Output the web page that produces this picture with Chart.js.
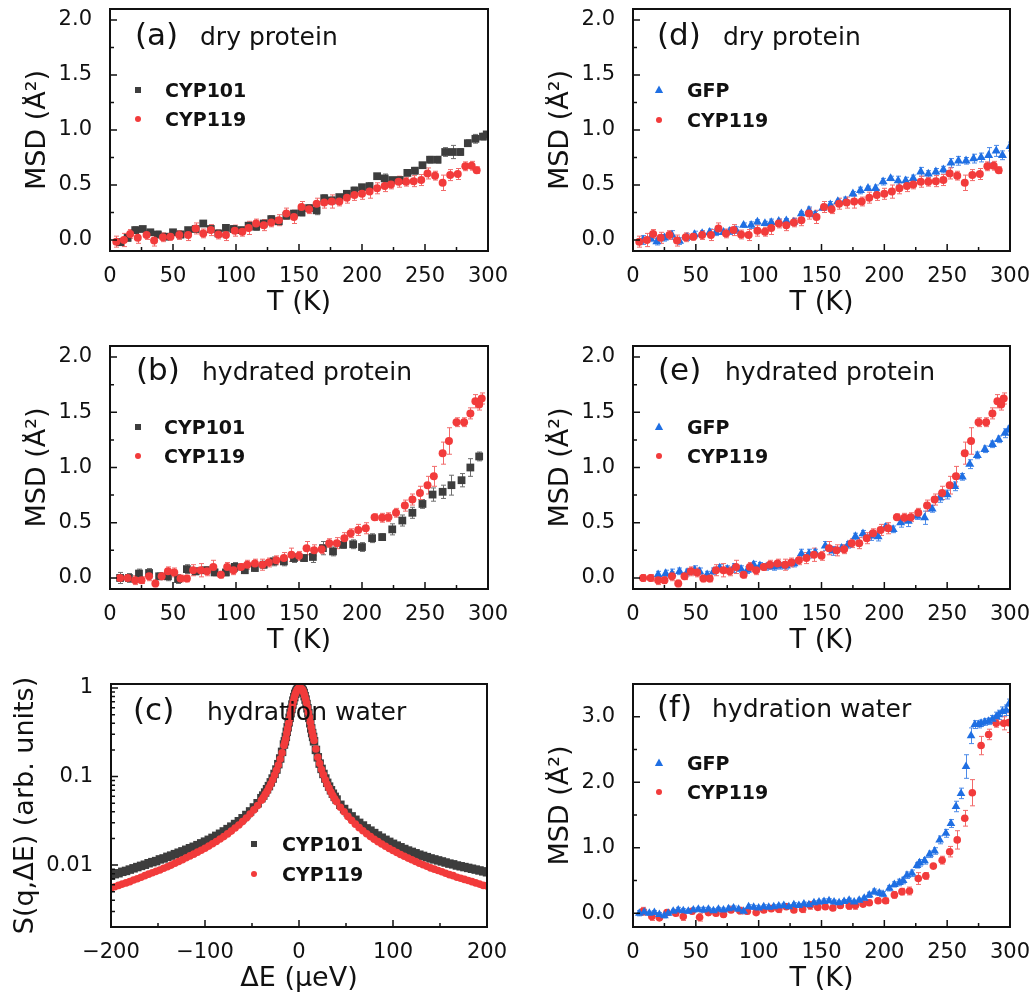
<!DOCTYPE html>
<html><head><meta charset="utf-8">
<script src="https://cdn.jsdelivr.net/npm/chart.js@4.4.1/dist/chart.umd.min.js"></script>
<style>
html,body{margin:0;padding:0;background:#fff;overflow:hidden;width:1032px;height:997px;position:relative}
canvas{position:absolute}
</style></head><body>
<canvas id="pa" width="496" height="340" style="left:22px;top:-21px"></canvas>
<canvas id="pb" width="496" height="341" style="left:22px;top:316px"></canvas>
<canvas id="pc" width="507" height="341" style="left:10px;top:654px"></canvas>
<canvas id="pd" width="495" height="340" style="left:545px;top:-21px"></canvas>
<canvas id="pe" width="495" height="341" style="left:545px;top:316px"></canvas>
<canvas id="pf" width="495" height="341" style="left:545px;top:654px"></canvas>
<script>
// ---------------- tick values and labels ----------------
const tTicks = [0, 50, 100, 150, 200, 250, 300];
const tTickLabels = ['0', '50', '100', '150', '200', '250', '300'];
const tMinor = [25, 75, 125, 175, 225, 275];
const msdTicks = [0, 0.5, 1.0, 1.5, 2.0];
const msdTickLabels = ['0.0', '0.5', '1.0', '1.5', '2.0'];
const msdMinor = [0.25, 0.75, 1.25, 1.75];
const wTicks = [0, 1, 2, 3];
const wTickLabels = ['0.0', '1.0', '2.0', '3.0'];
const wMinor = [0.5, 1.5, 2.5];
const eTicks = [-200, -100, 0, 100, 200];
const eTickLabels = ['\u2212200', '\u2212100', '0', '100', '200'];
const eMinor = [-150, -50, 50, 150];
const sTicks = [0.01, 0.1, 1];
const sTickLabels = ['0.01', '0.1', '1'];
const sMinor = [0.002,0.003,0.004,0.005,0.006,0.007,0.008,0.009,0.02,0.03,0.04,0.05,0.06,0.07,0.08,0.09,0.2,0.3,0.4,0.5,0.6,0.7,0.8,0.9];

// ---------------- (a)/(d) dry protein ----------------
const dryT_CYP101 = [8,14,20,26,32,38,44,50,56,62,68,74,80,86,92,98,104,110,116,122,128,134,140,146,152,158,164,170,176,182,188,194,200,206,212,218,224,230,236,242,248,254,260,266,272,278,284,290,296,299];
const dryMSD_CYP101 = [-0.02,0.02,0.09,0.1,0.07,0.05,0.03,0.07,0.05,0.09,0.1,0.15,0.1,0.06,0.11,0.1,0.09,0.13,0.12,0.15,0.19,0.17,0.22,0.24,0.25,0.29,0.27,0.38,0.36,0.39,0.42,0.45,0.48,0.49,0.58,0.56,0.545,0.545,0.61,0.63,0.68,0.73,0.73,0.8,0.8,0.8,0.88,0.92,0.94,0.96];
const dryErr_CYP101 = [0.03,0.03,0.03,0.02,0.02,0.03,0.02,0.02,0.03,0.02,0.02,0.02,0.03,0.03,0.02,0.03,0.02,0.02,0.03,0.02,0.03,0.03,0.02,0.03,0.03,0.02,0.04,0.03,0.03,0.02,0.03,0.03,0.02,0.03,0.02,0.04,0.02,0.03,0.02,0.03,0.02,0.03,0.03,0.04,0.06,0.03,0.03,0.04,0.03,0.02];

const dryT_CYP119 = [5,11,16,22,29,35,42,48,55,62,68,74,80,86,92,99,105,110,116,122,128,134,140,146,152,158,164,170,176,182,188,194,200,206,212,218,223,229,235,241,247,252,258,264,270,276,282,287,291];
const dryMSD_CYP119 = [-0.015,0.0,0.055,0.02,0.045,-0.005,0.025,0.03,0.045,0.045,0.105,0.06,0.09,0.05,0.045,0.085,0.075,0.11,0.15,0.135,0.16,0.18,0.24,0.21,0.3,0.28,0.33,0.34,0.35,0.35,0.385,0.41,0.42,0.44,0.47,0.49,0.505,0.53,0.53,0.535,0.545,0.605,0.585,0.52,0.59,0.6,0.67,0.675,0.635];
const dryErr_CYP119 = [0.05,0.06,0.04,0.05,0.04,0.05,0.04,0.03,0.04,0.05,0.05,0.04,0.05,0.04,0.05,0.05,0.04,0.06,0.04,0.05,0.04,0.05,0.05,0.06,0.05,0.04,0.05,0.05,0.06,0.04,0.05,0.05,0.05,0.06,0.05,0.05,0.04,0.05,0.04,0.05,0.05,0.05,0.04,0.07,0.05,0.05,0.04,0.04,0.03];

const dryT_GFP = [8,14,19,25,31,37,43,49,55,61,66,72,77,82,88,94,99,105,110,116,122,128,134,140,145,151,157,163,169,175,181,187,193,199,205,211,217,223,229,235,241,247,253,259,265,271,277,283,289,294,300];
const dryMSD_GFP = [0.0,0.015,-0.015,0.02,0.045,-0.01,0.025,0.05,0.06,0.07,0.07,0.07,0.08,0.09,0.135,0.135,0.165,0.15,0.16,0.17,0.175,0.165,0.24,0.27,0.23,0.29,0.32,0.35,0.36,0.42,0.45,0.47,0.47,0.53,0.56,0.54,0.54,0.56,0.62,0.6,0.62,0.64,0.70,0.72,0.72,0.74,0.75,0.77,0.81,0.77,0.85];
const dryErr_GFP = [0.04,0.03,0.03,0.03,0.04,0.03,0.03,0.03,0.02,0.03,0.03,0.02,0.03,0.03,0.02,0.03,0.02,0.02,0.03,0.02,0.02,0.03,0.02,0.03,0.03,0.02,0.03,0.02,0.03,0.02,0.03,0.02,0.03,0.03,0.02,0.04,0.03,0.03,0.04,0.03,0.03,0.03,0.04,0.04,0.03,0.04,0.04,0.07,0.05,0.04,0.04];

// ---------------- (b)/(e) hydrated protein ----------------
const hydT_CYP101 = [8,15,23,31,39,46,54,61,68,76,83,92,99,107,115,122,130,138,146,154,161,169,177,185,193,200,208,216,224,232,240,248,256,264,271,279,286,293];
const hydMSD_CYP101 = [0.0,0.0,0.04,0.045,0.015,0.015,-0.01,0.08,0.06,0.07,0.05,0.05,0.1,0.07,0.09,0.12,0.15,0.15,0.18,0.18,0.19,0.27,0.24,0.3,0.305,0.28,0.36,0.37,0.44,0.52,0.59,0.67,0.755,0.78,0.84,0.885,1.0,1.1];
const hydErr_CYP101 = [0.05,0.04,0.04,0.04,0.03,0.04,0.04,0.04,0.03,0.03,0.03,0.03,0.04,0.03,0.03,0.03,0.04,0.04,0.04,0.03,0.05,0.06,0.04,0.03,0.04,0.04,0.04,0.03,0.05,0.05,0.05,0.04,0.06,0.06,0.09,0.06,0.08,0.04];

const hydT_CYP119 = [8,14,20,25,31,36,41,46,51,56,61,66,72,77,82,88,93,98,104,109,115,121,126,132,138,144,150,156,162,168,174,180,186,191,197,203,210,216,221,227,234,240,246,252,257,264,269,275,281,286,290,293,295];
const hydMSD_CYP119 = [0.0,0.0,-0.02,-0.02,0.015,-0.05,0.015,0.06,0.05,-0.005,-0.005,0.07,0.07,0.06,0.1,0.03,0.1,0.07,0.1,0.12,0.13,0.12,0.14,0.16,0.18,0.21,0.2,0.27,0.25,0.26,0.315,0.315,0.36,0.405,0.435,0.45,0.55,0.545,0.55,0.59,0.655,0.71,0.77,0.84,0.92,1.13,1.24,1.41,1.41,1.49,1.6,1.57,1.625];
const hydErr_CYP119 = [0.03,0.03,0.04,0.03,0.04,0.03,0.03,0.04,0.04,0.03,0.03,0.05,0.06,0.04,0.06,0.03,0.04,0.04,0.03,0.04,0.04,0.05,0.04,0.04,0.05,0.06,0.04,0.06,0.05,0.04,0.04,0.05,0.05,0.04,0.05,0.05,0.03,0.04,0.04,0.04,0.05,0.05,0.06,0.08,0.09,0.1,0.12,0.04,0.04,0.05,0.06,0.05,0.05];

const hydT_GFP = [20,26,31,37,43,49,53,59,64,69,75,80,86,91,96,101,106,112,117,122,128,134,140,145,153,159,166,171,177,183,189,195,201,207,213,219,226,232,238,244,250,256,262,268,274,280,286,291,296,299];
const hydMSD_GFP = [0.03,0.04,0.04,0.06,0.05,0.07,0.06,0.03,0.06,0.09,0.08,0.09,0.08,0.07,0.12,0.11,0.1,0.1,0.11,0.11,0.13,0.22,0.22,0.23,0.29,0.245,0.27,0.3,0.375,0.4,0.38,0.375,0.46,0.44,0.5,0.515,0.56,0.545,0.625,0.725,0.755,0.83,0.915,1.03,1.11,1.165,1.21,1.255,1.31,1.345];
const hydErr_GFP = [0.03,0.03,0.04,0.03,0.03,0.04,0.03,0.03,0.03,0.03,0.03,0.04,0.03,0.03,0.03,0.03,0.03,0.03,0.03,0.03,0.03,0.04,0.04,0.03,0.04,0.04,0.03,0.03,0.03,0.03,0.04,0.04,0.03,0.03,0.04,0.05,0.03,0.06,0.03,0.04,0.04,0.04,0.03,0.04,0.03,0.03,0.03,0.03,0.04,0.03];

// ---------------- (c) hydration water spectra ----------------
const dE = [-200,-196,-192,-188,-184,-180,-176,-172,-168,-164,-160,-156,-152,-148,-144,-140,-136,-132,-128,-124,-120,-116,-112,-108,-104,-100,-96,-92,-88,-84,-80,-76,-72,-68,-64,-60,-56,-52,-48,-44,
  -40,-38,-36,-34,-32,-30,-28,-26,-24,-22,-20,-18,-16,
  -15,-14,-13,-12,-11,-10,-9,-8,-7,-6,-5,-4,-3,-2,-1,0,1,2,3,4,5,6,7,8,9,10,11,12,13,14,15,
  16,18,20,22,24,26,28,30,32,34,36,38,40,
  44,48,52,56,60,64,68,72,76,80,84,88,92,96,100,104,108,112,116,120,124,128,132,136,140,144,148,152,156,160,164,168,172,176,180,184,188,192,196,200];
const S_CYP101 = [0.0076,0.0079,0.0081,0.0084,0.0086,0.0089,0.0092,0.0095,0.0098,0.0101,0.0105,0.0108,0.0111,0.0116,0.0119,0.0124,0.0128,0.0133,0.0138,0.0143,0.0149,0.0155,0.0161,0.0168,0.0176,0.0184,0.0193,0.0203,0.0214,0.0226,0.024,0.0255,0.0272,0.0291,0.0313,0.0338,0.0368,0.0404,0.0448,0.050,
  0.057,0.061,0.066,0.072,0.078,0.086,0.095,0.107,0.12,0.138,0.16,0.19,0.23,
  0.25,0.28,0.32,0.36,0.41,0.46,0.52,0.58,0.65,0.72,0.79,0.86,0.91,0.95,0.98,1.0,1.0,0.99,0.96,0.93,0.88,0.81,0.74,0.66,0.59,0.52,0.46,0.40,0.35,0.31,0.28,
  0.25,0.2,0.165,0.14,0.122,0.107,0.095,0.085,0.077,0.07,0.064,0.059,0.055,
  0.048,0.043,0.039,0.0355,0.0325,0.030,0.028,0.026,0.0245,0.023,0.0216,0.0204,0.0193,0.0183,0.0174,0.0166,0.0159,0.0152,0.0146,0.0141,0.0136,0.0131,0.0127,0.0123,0.0119,0.0116,0.0113,0.011,0.0107,0.0104,0.0102,0.0099,0.0097,0.0095,0.0093,0.0091,0.0089,0.0087,0.0085,0.0083];
const S_CYP119 = [0.0055,0.0057,0.0059,0.0061,0.0063,0.0065,0.0068,0.0070,0.0073,0.0076,0.0079,0.0082,0.0085,0.0088,0.0092,0.0096,0.0100,0.0105,0.0110,0.0115,0.0121,0.0127,0.0133,0.0140,0.0147,0.0155,0.0164,0.0174,0.0185,0.0197,0.021,0.0225,0.0242,0.0262,0.0284,0.031,0.034,0.0377,0.042,0.047,
  0.054,0.058,0.063,0.068,0.075,0.083,0.092,0.104,0.118,0.135,0.158,0.185,0.225,
  0.245,0.27,0.31,0.35,0.4,0.45,0.51,0.57,0.64,0.71,0.78,0.85,0.9,0.95,0.98,1.0,1.0,0.99,0.97,0.94,0.89,0.82,0.75,0.68,0.6,0.53,0.47,0.41,0.36,0.32,0.285,
  0.255,0.205,0.165,0.14,0.12,0.105,0.092,0.082,0.074,0.067,0.061,0.056,0.052,
  0.045,0.04,0.0355,0.032,0.029,0.0265,0.0244,0.0226,0.021,0.0196,0.0184,0.0173,0.0163,0.0154,0.0146,0.0139,0.0132,0.0126,0.012,0.0115,0.011,0.0105,0.0101,0.0097,0.0093,0.009,0.0087,0.0084,0.0081,0.0078,0.0076,0.0073,0.0071,0.0069,0.0067,0.0065,0.0063,0.0061,0.0059,0.0058];

// ---------------- (f) hydration water MSD ----------------
const watT_GFP = [5,9,13,17,21,25,28,32,36,40,44,48,52,56,60,64,68,72,76,80,84,88,92,96,100,104,108,112,116,120,124,128,132,136,140,144,148,152,156,160,164,168,172,176,180,184,188,192,196,199,204,208,212,215,218,222,226,228,232,236,240,244,249,253,257,261,265,269,272,275,277,280,283,286,289,291,294,297,299];
const watMSD_GFP = [0.0,0.02,0.0,0.01,-0.02,-0.04,0.0,0.03,0.05,0.04,0.03,0.05,0.06,0.05,0.06,0.04,0.06,0.05,0.07,0.08,0.06,0.03,0.1,0.09,0.08,0.1,0.09,0.1,0.11,0.12,0.1,0.13,0.12,0.14,0.13,0.16,0.17,0.18,0.19,0.17,0.16,0.18,0.2,0.17,0.2,0.23,0.28,0.33,0.31,0.29,0.38,0.44,0.47,0.5,0.58,0.61,0.73,0.77,0.8,0.9,0.95,1.12,1.22,1.37,1.63,1.83,2.24,2.71,2.88,2.88,2.9,2.92,2.93,2.96,3.0,3.03,3.08,3.1,3.19];
const watErr_GFP = [0.04,0.04,0.03,0.03,0.03,0.03,0.03,0.03,0.04,0.03,0.03,0.03,0.03,0.04,0.03,0.03,0.03,0.03,0.04,0.03,0.03,0.04,0.03,0.03,0.03,0.03,0.03,0.03,0.03,0.03,0.03,0.03,0.03,0.03,0.03,0.03,0.03,0.04,0.03,0.03,0.03,0.03,0.03,0.03,0.03,0.03,0.04,0.04,0.04,0.04,0.04,0.04,0.05,0.05,0.05,0.05,0.04,0.05,0.05,0.05,0.05,0.06,0.06,0.06,0.08,0.08,0.18,0.12,0.06,0.05,0.05,0.05,0.05,0.06,0.07,0.07,0.07,0.08,0.08];

const watT_CYP119 = [8,15,21,27,34,40,47,53,60,66,72,78,85,91,98,104,110,116,122,128,135,141,147,153,159,165,172,177,183,188,195,201,208,214,220,227,233,239,246,252,258,264,270,277,283,289,295,299];
const watMSD_CYP119 = [0.03,-0.05,-0.07,0.01,0.0,-0.05,0.03,-0.06,0.01,0.0,-0.02,0.05,0.04,0.03,0.01,0.05,0.07,0.06,0.1,0.05,0.06,0.12,0.09,0.1,0.08,0.12,0.11,0.12,0.14,0.16,0.19,0.19,0.28,0.33,0.34,0.53,0.57,0.72,0.81,0.94,1.12,1.45,1.84,2.56,2.73,2.9,2.9,2.91];
const watErr_CYP119 = [0.06,0.06,0.04,0.04,0.04,0.06,0.04,0.06,0.04,0.04,0.04,0.04,0.05,0.04,0.03,0.04,0.04,0.05,0.04,0.04,0.05,0.06,0.04,0.04,0.04,0.04,0.05,0.06,0.04,0.04,0.04,0.04,0.05,0.05,0.06,0.09,0.05,0.04,0.06,0.08,0.14,0.12,0.2,0.14,0.08,0.06,0.1,0.15];

// ---------------- drawing helpers ----------------
const FONT = "'DejaVu Sans', 'Liberation Sans', Arial, sans-serif";
Chart.defaults.font.family = FONT;
const TXT = '#111';
const COL = {gray: '#3d3d3d', red: '#f23b3b', blue: '#1f6fe3'};
const ERRCOL = {gray: '#6e6e6e', red: '#f26a6a', blue: '#4d8be8'};
const STYLE = {gray: 'rect', red: 'circle', blue: 'triangle'};

function pts(xs, ys) { return xs.map((x, i) => ({x: x, y: ys[i]})); }

function series(label, xs, ys, errs, kind, order, r) {
  return {
    label: label, data: pts(xs, ys), errors: errs, kind: kind,
    pointStyle: STYLE[kind], pointRadius: r, pointHoverRadius: r,
    backgroundColor: COL[kind], borderColor: COL[kind], borderWidth: 0,
    showLine: false, order: order
  };
}

const errorBars = {
  id: 'errorBars',
  beforeDatasetsDraw(chart) {
    const ctx = chart.ctx, a = chart.chartArea, ys = chart.scales.y;
    ctx.save();
    ctx.beginPath(); ctx.rect(a.left, a.top, a.right - a.left, a.bottom - a.top); ctx.clip();
    chart.data.datasets.forEach((ds, i) => {
      if (!ds.errors) return;
      const meta = chart.getDatasetMeta(i);
      ctx.strokeStyle = ERRCOL[ds.kind]; ctx.lineWidth = 1;
      ctx.beginPath();
      meta.data.forEach((el, j) => {
        const v = ds.data[j].y, e = ds.errors[j];
        const x = Math.round(el.x) + 0.5;
        const y1 = ys.getPixelForValue(v + e), y2 = ys.getPixelForValue(v - e);
        ctx.moveTo(x, y1); ctx.lineTo(x, y2);
        ctx.moveTo(x - 2.5, y1); ctx.lineTo(x + 2.5, y1);
        ctx.moveTo(x - 2.5, y2); ctx.lineTo(x + 2.5, y2);
      });
      ctx.stroke();
    });
    ctx.restore();
  }
};

function marker(ctx, kind, x, y, s) {
  ctx.fillStyle = COL[kind];
  ctx.beginPath();
  if (kind === 'gray') { ctx.rect(x - s / 2, y - s / 2, s, s); }
  else if (kind === 'red') { ctx.arc(x, y, s / 2, 0, Math.PI * 2); }
  else { ctx.moveTo(x, y - s * 0.6); ctx.lineTo(x + s * 0.55, y + s * 0.4); ctx.lineTo(x - s * 0.55, y + s * 0.4); ctx.closePath(); }
  ctx.fill();
}

function decor(cfg) {
  return {
    id: 'decor',
    afterDraw(chart) {
      const ctx = chart.ctx, a = chart.chartArea, sx = chart.scales.x, sy = chart.scales.y;
      ctx.save();
      ctx.strokeStyle = TXT; ctx.lineWidth = 1.5;
      ctx.beginPath();
      const xt = (v, len) => { const p = sx.getPixelForValue(v); ctx.moveTo(p, a.bottom); ctx.lineTo(p, a.bottom - len); };
      const yt = (v, len) => { const p = sy.getPixelForValue(v); ctx.moveTo(a.left, p); ctx.lineTo(a.left + len, p); };
      cfg.xMajor.forEach(v => xt(v, 7)); cfg.xMinor.forEach(v => xt(v, 4));
      cfg.yMajor.forEach(v => yt(v, 7)); cfg.yMinor.forEach(v => yt(v, 4));
      ctx.stroke();
      ctx.lineWidth = 2;
      ctx.strokeRect(a.left, a.top, a.right - a.left, a.bottom - a.top);
      // panel label and caption
      ctx.fillStyle = TXT; ctx.textAlign = 'left'; ctx.textBaseline = 'alphabetic';
      ctx.font = '31px ' + FONT; ctx.fillText(cfg.tag, a.left + cfg.tagX, a.top + cfg.base);
      ctx.font = '25px ' + FONT; ctx.fillText(cfg.caption, a.left + cfg.capX, a.top + cfg.base);
      // legend
      ctx.font = 'bold 19px ' + FONT;
      cfg.legend.forEach((idx, k) => {
        const ds = chart.data.datasets[idx];
        const by = a.top + cfg.legBase[k];
        marker(ctx, ds.kind, a.left + cfg.legMarkX, by - 7, ds.kind === 'blue' ? 7.5 : 6);
        ctx.fillStyle = TXT;
        ctx.fillText(ds.label, a.left + cfg.legTextX, by);
      });
      ctx.restore();
    }
  };
}

function panel(id, g, spec) {
  new Chart(document.getElementById(id), {
    type: 'scatter',
    data: {datasets: spec.datasets},
    options: {
      responsive: false, animation: false, devicePixelRatio: 1,
      layout: {padding: {top: 30, right: 30, left: 0, bottom: 0}},
      plugins: {legend: {display: false}, tooltip: {enabled: false}},
      scales: {
        x: {
          type: 'linear', min: spec.xMin, max: spec.xMax,
          grid: {display: false}, border: {display: false},
          afterBuildTicks: s => { s.ticks = spec.xTicks.map(v => ({value: v})); },
          ticks: {padding: 5, color: TXT, font: {size: 21}, maxRotation: 0, autoSkip: false,
                  callback: (v, i) => spec.xLabels[i]},
          title: {display: true, text: spec.xTitle, color: TXT, font: {size: 27}, padding: 0},
          afterFit: s => { s.height = g.xh; }
        },
        y: {
          type: spec.yType || 'linear', min: spec.yMin, max: spec.yMax,
          grid: {display: false}, border: {display: false},
          afterBuildTicks: s => { s.ticks = spec.yTicks.map(v => ({value: v})); },
          ticks: {padding: 10, color: TXT, font: {size: 21}, autoSkip: false,
                  callback: (v, i) => spec.yLabels[i]},
          title: {display: true, text: spec.yTitle, color: TXT, font: {size: 27}, padding: 0},
          afterFit: s => { s.width = g.yw; }
        }
      }
    },
    plugins: [errorBars, decor(spec.decor)]
  });
}

const MSD_TITLE = 'MSD (\u00c5\u00b2)';
const geoStd = {yw: 88, xh: 68};

// (a)
panel('pa', geoStd, {
  datasets: [series('CYP101', dryT_CYP101, dryMSD_CYP101, dryErr_CYP101, 'gray', 1, 5.5),
             series('CYP119', dryT_CYP119, dryMSD_CYP119, dryErr_CYP119, 'red', 0, 4)],
  xMin: 0, xMax: 300, xTicks: tTicks, xLabels: tTickLabels, xTitle: 'T (K)',
  yMin: -0.1, yMax: 2.1, yTicks: msdTicks, yLabels: msdTickLabels, yTitle: MSD_TITLE,
  decor: {xMajor: tTicks, xMinor: tMinor, yMajor: msdTicks, yMinor: msdMinor,
          tag: '(a)', tagX: 25, caption: 'dry protein', capX: 90, base: 36,
          legend: [0, 1], legMarkX: 28, legTextX: 55, legBase: [88, 117]}
});
// (b)
panel('pb', geoStd, {
  datasets: [series('CYP101', hydT_CYP101, hydMSD_CYP101, hydErr_CYP101, 'gray', 1, 5.5),
             series('CYP119', hydT_CYP119, hydMSD_CYP119, hydErr_CYP119, 'red', 0, 4)],
  xMin: 0, xMax: 300, xTicks: tTicks, xLabels: tTickLabels, xTitle: 'T (K)',
  yMin: -0.1, yMax: 2.1, yTicks: msdTicks, yLabels: msdTickLabels, yTitle: MSD_TITLE,
  decor: {xMajor: tTicks, xMinor: tMinor, yMajor: msdTicks, yMinor: msdMinor,
          tag: '(b)', tagX: 26, caption: 'hydrated protein', capX: 92, base: 34,
          legend: [0, 1], legMarkX: 28, legTextX: 54, legBase: [88, 117]}
});
// (c)
panel('pc', {yw: 101, xh: 68}, {
  datasets: [series('CYP101', dE, S_CYP101, null, 'gray', 1, 6),
             series('CYP119', dE, S_CYP119, null, 'red', 0, 3.8)],
  xMin: -200, xMax: 200, xTicks: eTicks, xLabels: eTickLabels, xTitle: '\u0394E (\u03bceV)',
  yType: 'logarithmic', yMin: 0.002, yMax: 1.11, yTicks: sTicks, yLabels: sTickLabels,
  yTitle: 'S(q,\u0394E) (arb. units)',
  decor: {xMajor: eTicks, xMinor: eMinor, yMajor: sTicks, yMinor: sMinor,
          tag: '(c)', tagX: 22, caption: 'hydration water', capX: 96, base: 36,
          legend: [0, 1], legMarkX: 143, legTextX: 171, legBase: [167, 197]}
});
// (d)
panel('pd', geoStd, {
  datasets: [series('GFP', dryT_GFP, dryMSD_GFP, dryErr_GFP, 'blue', 1, 5.2),
             series('CYP119', dryT_CYP119, dryMSD_CYP119, dryErr_CYP119, 'red', 0, 4)],
  xMin: 0, xMax: 300, xTicks: tTicks, xLabels: tTickLabels, xTitle: 'T (K)',
  yMin: -0.1, yMax: 2.1, yTicks: msdTicks, yLabels: msdTickLabels, yTitle: MSD_TITLE,
  decor: {xMajor: tTicks, xMinor: tMinor, yMajor: msdTicks, yMinor: msdMinor,
          tag: '(d)', tagX: 24, caption: 'dry protein', capX: 90, base: 36,
          legend: [0, 1], legMarkX: 26, legTextX: 54, legBase: [88, 118]}
});
// (e)
panel('pe', geoStd, {
  datasets: [series('GFP', hydT_GFP, hydMSD_GFP, hydErr_GFP, 'blue', 1, 5.2),
             series('CYP119', hydT_CYP119, hydMSD_CYP119, hydErr_CYP119, 'red', 0, 4)],
  xMin: 0, xMax: 300, xTicks: tTicks, xLabels: tTickLabels, xTitle: 'T (K)',
  yMin: -0.1, yMax: 2.1, yTicks: msdTicks, yLabels: msdTickLabels, yTitle: MSD_TITLE,
  decor: {xMajor: tTicks, xMinor: tMinor, yMajor: msdTicks, yMinor: msdMinor,
          tag: '(e)', tagX: 25, caption: 'hydrated protein', capX: 92, base: 34,
          legend: [0, 1], legMarkX: 26, legTextX: 54, legBase: [88, 117]}
});
// (f)
panel('pf', geoStd, {
  datasets: [series('GFP', watT_GFP, watMSD_GFP, watErr_GFP, 'blue', 0, 5),
             series('CYP119', watT_CYP119, watMSD_CYP119, watErr_CYP119, 'red', 1, 3.8)],
  xMin: 0, xMax: 300, xTicks: tTicks, xLabels: tTickLabels, xTitle: 'T (K)',
  yMin: -0.21, yMax: 3.5, yTicks: wTicks, yLabels: wTickLabels, yTitle: MSD_TITLE,
  decor: {xMajor: tTicks, xMinor: tMinor, yMajor: wTicks, yMinor: wMinor,
          tag: '(f)', tagX: 24, caption: 'hydration water', capX: 79, base: 33,
          legend: [0, 1], legMarkX: 26, legTextX: 54, legBase: [86, 115]}
});
</script>
</body></html>
